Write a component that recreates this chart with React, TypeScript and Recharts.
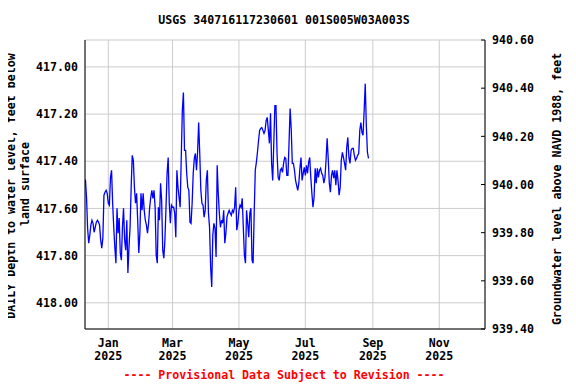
import React from 'react';
import { LineChart, Line, XAxis, YAxis, CartesianGrid } from 'recharts';

const DAY = 86400000;
const START = Date.UTC(2024, 11, 11);
const JAN1 = Date.UTC(2025, 0, 1);

// Daily depth to water level (feet below land surface)
const dec2024 = [417.477, 417.553, 417.684, 417.747, 417.713, 417.671, 417.650, 417.663, 417.701, 417.680, 417.658, 417.650, 417.658, 417.671, 417.734, 417.768, 417.726, 417.544, 417.531, 417.523, 417.536];
const jan2025 = [417.578, 417.586, 417.468, 417.438, 417.578, 417.680, 417.764, 417.832, 417.599, 417.705, 417.641, 417.789, 417.819, 417.680, 417.599, 417.734, 417.777, 417.650, 417.874, 417.764, 417.680, 417.510, 417.375, 417.396, 417.510, 417.578, 417.536, 417.650, 417.789, 417.705, 417.536];
const feb2025 = [417.608, 417.536, 417.608, 417.650, 417.671, 417.705, 417.663, 417.595, 417.553, 417.523, 417.557, 417.523, 417.595, 417.798, 417.832, 417.595, 417.650, 417.493, 417.565, 417.777, 417.811, 417.734, 417.595, 417.451, 417.384, 417.578, 417.663, 417.586];
const mar2025 = [417.595, 417.595, 417.620, 417.722, 417.438, 417.510, 417.553, 417.595, 417.384, 417.185, 417.109, 417.354, 417.354, 417.451, 417.510, 417.523, 417.658, 417.663, 417.578, 417.451, 417.388, 417.367, 417.438, 417.362, 417.236, 417.367, 417.523, 417.578, 417.586, 417.637, 417.608];
const apr2025 = [417.481, 417.438, 417.620, 417.680, 417.849, 417.933, 417.713, 417.663, 417.684, 417.806, 417.417, 417.536, 417.620, 417.680, 417.650, 417.663, 417.608, 417.747, 417.705, 417.637, 417.620, 417.608, 417.620, 417.629, 417.608, 417.616, 417.595, 417.510, 417.692, 417.663];
const may2025 = [417.608, 417.586, 417.595, 417.557, 417.680, 417.798, 417.832, 417.608, 417.663, 417.722, 417.620, 417.599, 417.819, 417.832, 417.620, 417.438, 417.405, 417.362, 417.312, 417.269, 417.261, 417.257, 417.269, 417.282, 417.269, 417.227, 417.214, 417.269, 417.324, 417.197, 417.409];
const jun2025 = [417.481, 417.324, 417.164, 417.164, 417.367, 417.468, 417.481, 417.438, 417.430, 417.447, 417.409, 417.384, 417.388, 417.460, 417.460, 417.324, 417.176, 417.261, 417.409, 417.409, 417.438, 417.481, 417.502, 417.523, 417.493, 417.430, 417.384, 417.481, 417.451, 417.426];
const jul2025 = [417.460, 417.417, 417.451, 417.405, 417.384, 417.468, 417.536, 417.595, 417.553, 417.430, 417.493, 417.430, 417.468, 417.438, 417.430, 417.451, 417.460, 417.493, 417.468, 417.396, 417.303, 417.388, 417.493, 417.531, 417.460, 417.438, 417.472, 417.438, 417.502, 417.438, 417.481];
const aug2025 = [417.544, 417.510, 417.396, 417.362, 417.384, 417.409, 417.438, 417.341, 417.299, 417.384, 417.409, 417.354, 417.345, 417.345, 417.375, 417.396, 417.388, 417.375, 417.367, 417.269, 417.236, 417.278, 417.290, 417.185, 417.071, 417.248, 417.362, 417.388];

const depthValues = [...dec2024, ...jan2025, ...feb2025, ...mar2025, ...apr2025, ...may2025, ...jun2025, ...jul2025, ...aug2025];

const monthTicks = [Date.UTC(2025, 0, 1), Date.UTC(2025, 2, 1), Date.UTC(2025, 4, 1), Date.UTC(2025, 6, 1), Date.UTC(2025, 8, 1), Date.UTC(2025, 10, 1)];
const monthLabels = ['Jan', 'Mar', 'May', 'Jul', 'Sep', 'Nov'];
const yearLabels = ['2025', '2025', '2025', '2025', '2025', '2025'];

const leftTicks = [417.0, 417.2, 417.4, 417.6, 417.8, 418.0];
const rightTicks = [939.4, 939.6, 939.8, 940.0, 940.2, 940.4, 940.6];

const leftDomain = [416.886, 418.111];
const rightDomain = [939.4, 940.6];
const xDomain = [JAN1 - 21.4 * DAY, JAN1 + 346.0 * DAY];

const data = depthValues.map((v, i) => ({ t: START + i * DAY, depth: v }));

const FONT = "'DejaVu Sans Mono', 'Liberation Mono', monospace";
const FS = 11.6;

const XTick = (props: any) => {
  const { x, y, payload } = props;
  const i = monthTicks.indexOf(payload.value);
  return (
    <g>
      <text x={x} y={y + 18} textAnchor="middle" fontFamily={FONT} fontWeight="bold" fontSize={FS} fill="#000">{monthLabels[i]}</text>
      <text x={x} y={y + 31} textAnchor="middle" fontFamily={FONT} fontWeight="bold" fontSize={FS} fill="#000">{yearLabels[i]}</text>
    </g>
  );
};

const LTick = (props: any) => {
  const { x, y, payload } = props;
  return (
    <text x={x} y={y} dy="0.36em" textAnchor="end" fontFamily={FONT} fontWeight="bold" fontSize={FS} fill="#000">{Number(payload.value).toFixed(2)}</text>
  );
};

const RTick = (props: any) => {
  const { x, y, payload } = props;
  return (
    <g>
      <line x1={x - 4} x2={x} y1={y} y2={y} stroke="#000" strokeWidth={1} />
      <text x={x + 7} y={y} dy="0.36em" textAnchor="start" fontFamily={FONT} fontWeight="bold" fontSize={FS} fill="#000">{Number(payload.value).toFixed(2)}</text>
    </g>
  );
};

export default function App() {
  const W = 568;
  const H = 376;
  return (
    <div style={{ position: 'relative', width: W, height: H }}>
      <LineChart width={W} height={H} data={data} margin={{ top: 32, right: 0, bottom: 0, left: 0 }}>
        <CartesianGrid stroke="#cccccc" strokeWidth={1} xAxisId="bottom" yAxisId="left" />
        <XAxis
          xAxisId="bottom"
          dataKey="t"
          type="number"
          domain={xDomain}
          ticks={monthTicks}
          interval={0}
          allowDataOverflow
          height={55}
          tickLine={false}
          tickSize={0}
          tickMargin={0}
          axisLine={{ stroke: '#000' }}
          tick={(p: any) => <XTick {...p} />}
        />
        <XAxis
          xAxisId="top"
          orientation="top"
          dataKey="t"
          type="number"
          domain={xDomain}
          allowDataOverflow
          height={0}
          tick={false}
          tickLine={false}
          axisLine={{ stroke: '#000' }}
        />
        <YAxis
          yAxisId="left"
          orientation="left"
          type="number"
          domain={leftDomain}
          reversed
          allowDataOverflow
          ticks={leftTicks}
          interval={0}
          width={77}
          tickLine={false}
          tickSize={0}
          tickMargin={7}
          axisLine={{ stroke: '#000' }}
          tick={(p: any) => <LTick {...p} />}
        />
        <YAxis
          yAxisId="right"
          orientation="right"
          type="number"
          domain={rightDomain}
          allowDataOverflow
          ticks={rightTicks}
          interval={0}
          width={91}
          tickLine={false}
          tickSize={0}
          tickMargin={0}
          axisLine={{ stroke: '#000' }}
          tick={(p: any) => <RTick {...p} />}
        />
        <Line
          xAxisId="bottom"
          yAxisId="left"
          type="linear"
          dataKey="depth"
          stroke="#0000ff"
          strokeWidth={1.3}
          dot={false}
          activeDot={false}
          isAnimationActive={false}
        />
      </LineChart>
      <svg width={W} height={H} style={{ position: 'absolute', left: 0, top: 0, pointerEvents: 'none', overflow: 'visible' }}>
        <text x={276} y={16} textAnchor="middle" fontFamily={FONT} fontWeight="bold" fontSize={FS} fill="#000">USGS 340716117230601 001S005W03A003S</text>
        <text transform="translate(7,178) rotate(-90)" textAnchor="middle" fontFamily={FONT} fontWeight="bold" fontSize={FS} fill="#000">DAILY Depth to water level, feet below</text>
        <text transform="translate(20.5,176) rotate(-90)" textAnchor="middle" fontFamily={FONT} fontWeight="bold" fontSize={FS} fill="#000">land surface</text>
        <text transform="translate(552.5,181) rotate(-90)" textAnchor="middle" fontFamily={FONT} fontWeight="bold" fontSize={FS} fill="#000">Groundwater level above NAVD 1988, feet</text>
        <text x={276} y={371} textAnchor="middle" fontFamily={FONT} fontWeight="bold" fontSize={FS} fill="#ff0000">---- Provisional Data Subject to Revision ----</text>
      </svg>
    </div>
  );
}
